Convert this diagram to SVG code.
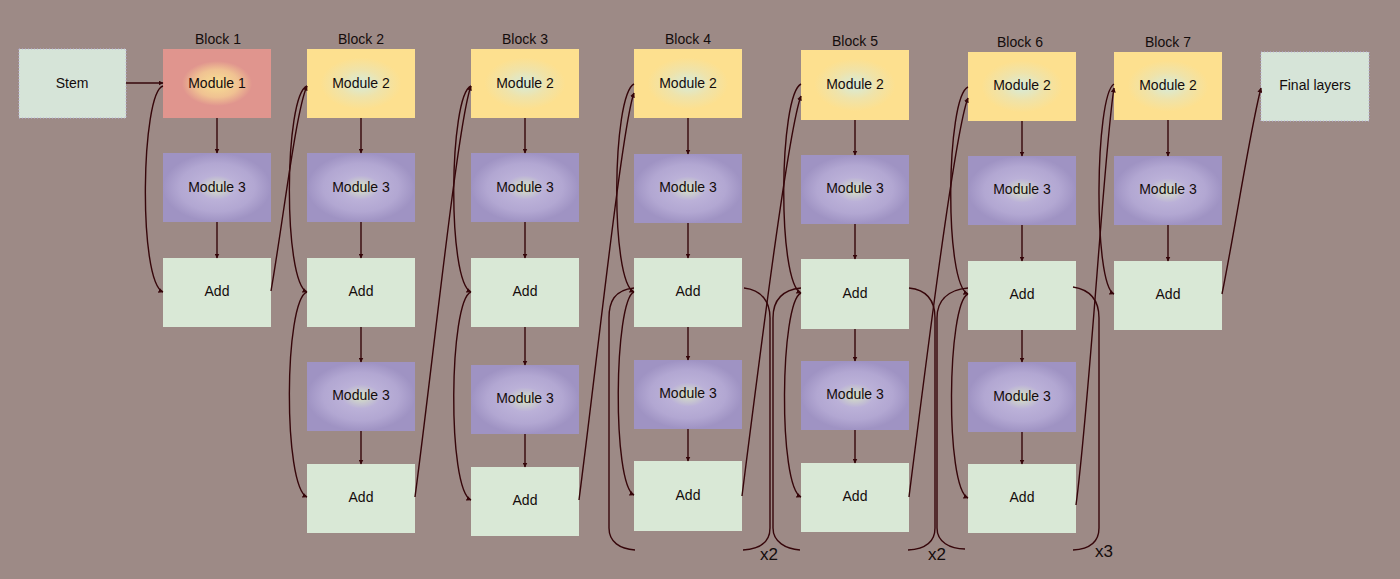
<svg xmlns="http://www.w3.org/2000/svg" width="1400" height="579" viewBox="0 0 1400 579">
<defs>
<radialGradient id="gY" cx="50%" cy="50%" r="50%">
<stop offset="0%" stop-color="#d6ecdc"/><stop offset="40%" stop-color="#efe3aa"/><stop offset="75%" stop-color="#fde08f"/><stop offset="100%" stop-color="#fde08f"/>
</radialGradient>
<radialGradient id="gP" cx="50%" cy="50%" r="50%">
<stop offset="0%" stop-color="#d8e4c4"/><stop offset="35%" stop-color="#bbb1d8"/><stop offset="70%" stop-color="#b2a7d2"/><stop offset="100%" stop-color="#9f93c3"/>
</radialGradient>
<radialGradient id="gR" cx="50%" cy="50%" r="50%">
<stop offset="0%" stop-color="#f8e094"/><stop offset="40%" stop-color="#f0c292"/><stop offset="65%" stop-color="#e0958e"/><stop offset="100%" stop-color="#e0958e"/>
</radialGradient>
<marker id="ah" viewBox="0 0 10 10" refX="9" refY="5" markerWidth="5" markerHeight="5" orient="auto" markerUnits="userSpaceOnUse">
<path d="M0,0 L10,5 L0,10 z" fill="#36060a"/>
</marker>
<style>
.y{fill:url(#gY)}
.p{fill:url(#gP)}
.r{fill:url(#gR)}
.a{fill:#d9e8d6}
.s{fill:#d6e4d8;stroke:#b9b3dc;stroke-width:1;stroke-dasharray:1 2}
text{font-family:"Liberation Sans",Arial,sans-serif;font-size:14px;fill:#140c0c;text-anchor:middle;dominant-baseline:central}
.x{font-size:17px}
#connectors path{fill:none;stroke:#36060a;stroke-width:1.4}
#connectors .m{marker-end:url(#ah)}
</style>
</defs>
<rect width="1400" height="579" fill="#9d8a86"/>

<g id="labels">
<text x="218" y="39">Block 1</text>
<text x="361" y="39">Block 2</text>
<text x="525" y="39">Block 3</text>
<text x="688" y="39">Block 4</text>
<text x="855" y="41">Block 5</text>
<text x="1020" y="42">Block 6</text>
<text x="1168" y="42">Block 7</text>
<text class="x" x="769" y="554">x2</text>
<text class="x" x="937" y="554">x2</text>
<text class="x" x="1104" y="551">x3</text>
</g>

<g id="stem"><rect class="s" x="19" y="49" width="107" height="69"/><text x="72" y="83">Stem</text></g>

<g id="b1m1"><rect class="r" x="163" y="49" width="108" height="69"/><text x="217" y="83">Module 1</text></g>
<g id="b1m3"><rect class="p" x="163" y="153" width="108" height="69"/><text x="217" y="187">Module 3</text></g>
<g id="b1add"><rect class="a" x="163" y="258" width="108" height="69"/><text x="217" y="291">Add</text></g>

<g id="b2m2"><rect class="y" x="307" y="49" width="108" height="69"/><text x="361" y="83">Module 2</text></g>
<g id="b2m3a"><rect class="p" x="307" y="153" width="108" height="69"/><text x="361" y="187">Module 3</text></g>
<g id="b2add1"><rect class="a" x="307" y="258" width="108" height="69"/><text x="361" y="291">Add</text></g>
<g id="b2m3b"><rect class="p" x="307" y="362" width="108" height="69"/><text x="361" y="395">Module 3</text></g>
<g id="b2add2"><rect class="a" x="307" y="464" width="108" height="69"/><text x="361" y="497">Add</text></g>

<g id="b3m2"><rect class="y" x="471" y="49" width="108" height="69"/><text x="525" y="83">Module 2</text></g>
<g id="b3m3a"><rect class="p" x="471" y="153" width="108" height="69"/><text x="525" y="187">Module 3</text></g>
<g id="b3add1"><rect class="a" x="471" y="258" width="108" height="69"/><text x="525" y="291">Add</text></g>
<g id="b3m3b"><rect class="p" x="471" y="365" width="108" height="69"/><text x="525" y="398">Module 3</text></g>
<g id="b3add2"><rect class="a" x="471" y="467" width="108" height="69"/><text x="525" y="500">Add</text></g>

<g id="b4m2"><rect class="y" x="634" y="49" width="108" height="69"/><text x="688" y="83">Module 2</text></g>
<g id="b4m3a"><rect class="p" x="634" y="154" width="108" height="69"/><text x="688" y="187">Module 3</text></g>
<g id="b4add1"><rect class="a" x="634" y="258" width="108" height="69"/><text x="688" y="291">Add</text></g>
<g id="b4m3b"><rect class="p" x="634" y="360" width="108" height="69"/><text x="688" y="393">Module 3</text></g>
<g id="b4add2"><rect class="a" x="634" y="461" width="108" height="70"/><text x="688" y="495">Add</text></g>

<g id="b5m2"><rect class="y" x="801" y="50" width="108" height="70"/><text x="855" y="84">Module 2</text></g>
<g id="b5m3a"><rect class="p" x="801" y="155" width="108" height="69"/><text x="855" y="188">Module 3</text></g>
<g id="b5add1"><rect class="a" x="801" y="259" width="108" height="70"/><text x="855" y="293">Add</text></g>
<g id="b5m3b"><rect class="p" x="801" y="361" width="108" height="69"/><text x="855" y="394">Module 3</text></g>
<g id="b5add2"><rect class="a" x="801" y="463" width="108" height="69"/><text x="855" y="496">Add</text></g>

<g id="b6m2"><rect class="y" x="968" y="52" width="108" height="69"/><text x="1022" y="85">Module 2</text></g>
<g id="b6m3a"><rect class="p" x="968" y="156" width="108" height="69"/><text x="1022" y="189">Module 3</text></g>
<g id="b6add1"><rect class="a" x="968" y="261" width="108" height="69"/><text x="1022" y="294">Add</text></g>
<g id="b6m3b"><rect class="p" x="968" y="362" width="108" height="70"/><text x="1022" y="396">Module 3</text></g>
<g id="b6add2"><rect class="a" x="968" y="464" width="108" height="69"/><text x="1022" y="497">Add</text></g>

<g id="b7m2"><rect class="y" x="1114" y="52" width="108" height="68"/><text x="1168" y="85">Module 2</text></g>
<g id="b7m3"><rect class="p" x="1114" y="156" width="108" height="69"/><text x="1168" y="189">Module 3</text></g>
<g id="b7add"><rect class="a" x="1114" y="261" width="108" height="69"/><text x="1168" y="294">Add</text></g>

<g id="final"><rect class="s" x="1261" y="52" width="108" height="69"/><text x="1315" y="85">Final layers</text></g>

<g id="connectors">
<path class="m" d="M126,83 L163,83"/>
<path class="m" d="M217,118 L217,153"/>
<path class="m" d="M217,222 L217,258"/>
<path class="m" d="M163,86 C141,92 138,282 163,292"/>
<path class="m" d="M271,291 C283,222 296,110 307,86"/>

<path class="m" d="M361,118 L361,153"/>
<path class="m" d="M361,222 L361,258"/>
<path class="m" d="M361,327 L361,362"/>
<path class="m" d="M361,431 L361,464"/>
<path class="m" d="M307,86 C284,95 283,282 307,292"/>
<path class="m" d="M307,292 C284,300 283,487 307,497"/>
<path class="m" d="M415,497 C432,370 458,120 471,86"/>

<path class="m" d="M525,118 L525,153"/>
<path class="m" d="M525,222 L525,258"/>
<path class="m" d="M525,327 L525,365"/>
<path class="m" d="M525,434 L525,467"/>
<path class="m" d="M471,86 C449,95 447,282 471,292"/>
<path class="m" d="M471,292 C449,300 447,490 471,500"/>
<path class="m" d="M579,500 C596,370 622,125 634,93"/>

<path class="m" d="M688,118 L688,154"/>
<path class="m" d="M688,223 L688,258"/>
<path class="m" d="M688,327 L688,360"/>
<path class="m" d="M688,429 L688,461"/>
<path class="m" d="M634,84 C612,95 610,282 634,292"/>
<path class="m" d="M634,292 C614,300 612,485 634,495"/>
<path d="M634,288 C614,290 609,302 609,318 L609,528 C609,542 620,549 635,550"/>
<path d="M744,288 C762,290 770,302 770,318 L770,528 C770,542 760,549 743,550"/>
<path class="m" d="M742,496 C758,370 788,130 801,96"/>

<path class="m" d="M855,120 L855,155"/>
<path class="m" d="M855,224 L855,259"/>
<path class="m" d="M855,329 L855,361"/>
<path class="m" d="M855,430 L855,463"/>
<path class="m" d="M801,84 C779,95 777,283 801,293"/>
<path class="m" d="M801,293 C780,302 778,487 801,497"/>
<path d="M801,288 C781,290 773,302 773,318 L773,528 C773,542 786,549 800,550"/>
<path d="M909,288 C928,290 935,302 935,318 L935,528 C935,542 925,549 908,550"/>
<path class="m" d="M909,497 C925,370 955,130 968,98"/>

<path class="m" d="M1022,121 L1022,156"/>
<path class="m" d="M1022,225 L1022,261"/>
<path class="m" d="M1022,330 L1022,362"/>
<path class="m" d="M1022,432 L1022,464"/>
<path class="m" d="M968,87 C946,97 944,285 968,294"/>
<path class="m" d="M968,294 C947,303 945,488 968,498"/>
<path d="M968,288 C946,290 937,302 937,318 L937,528 C937,542 950,549 965,549"/>
<path d="M1073,287 C1092,290 1099,302 1099,318 L1099,528 C1099,542 1090,549 1073,550"/>
<path class="m" d="M1076,505 C1090,400 1104,150 1114,88"/>

<path class="m" d="M1168,120 L1168,156"/>
<path class="m" d="M1168,225 L1168,261"/>
<path class="m" d="M1114,84 C1095,95 1093,285 1114,294"/>
<path class="m" d="M1222,294 C1235,230 1250,130 1261,88"/>
</g>
</svg>
